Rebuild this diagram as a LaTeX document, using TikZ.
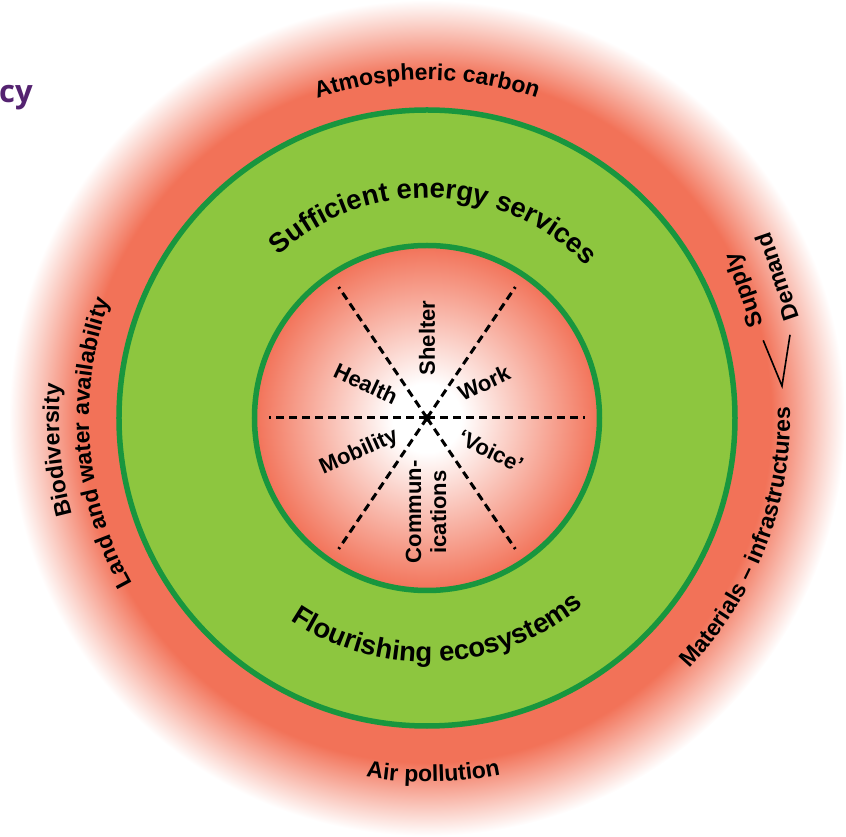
\documentclass[tikz,border=0pt]{standalone}
\usepackage{fontspec}
\setmainfont{Liberation Sans}
\newfontfamily\titlefont{Open Sans}
\usetikzlibrary{decorations.text}

\definecolor{ringred}{RGB}{242,114,88}
\definecolor{leafgreen}{RGB}{141,198,63}
\definecolor{rimgreen}{RGB}{24,150,62}
\definecolor{titlepurple}{RGB}{84,34,112}
\colorlet{coremid}{ringred!50!white}

\pgfdeclareradialshading{glow}{\pgfpoint{0bp}{0bp}}{color(0bp)=(ringred); color(20.6bp)=(ringred); color(25bp)=(white); color(50bp)=(white)}
\pgfdeclareradialshading{core}{\pgfpoint{0bp}{0bp}}{color(0bp)=(white); color(5bp)=(white); color(15bp)=(coremid); color(25bp)=(ringred); color(50bp)=(ringred)}

\newcommand\ringfont{\fontsize{27.5}{30}\selectfont\bfseries}
\newcommand\edgefont{\fontsize{23}{26}\selectfont\bfseries}
\newcommand\hubfont{\fontsize{22}{25}\selectfont\bfseries}

\tikzset{
  rim/.style={draw=rimgreen, line width=5.5pt},
  spoke/.style={line width=3pt, dash pattern=on 8pt off 5pt},
  hublabel/.style={font=\hubfont, inner sep=1pt},
  edgelabel/.style={font=\edgefont, inner sep=1pt},
  ringtext/.style={decorate, decoration={text along path, text align=center, text={|\ringfont|#1}}},
  edgetext/.style={decorate, decoration={text along path, text align=center, text={|\edgefont|#1}}}
}

\begin{document}
\begin{tikzpicture}[x=1pt,y=1pt]
  \useasboundingbox (-427,-419) rectangle (419,418);

  % Red glow and the two green rims
  \shade[shading=glow] (0,0) circle (418);
  \draw[rim, fill=leafgreen] (0,0) circle (308);
  \shade[shading=core] (0,0) circle (172.5);
  \draw[rim] (0,0) circle (172.5);

  % Spokes of the hub
  \coordinate (hub) at (0,0);
  \foreach \a in {0,56,124,180,236,304}{
    \coordinate (spoke\a) at (\a:158);
    \draw[spoke] (hub) -- (spoke\a);
  }
  \fill (hub) circle (3.8);

  % Needs around the hub
  \node[hublabel, rotate=90]  (shelter)  at (0,80)    {Shelter};
  \node[hublabel, rotate=-25] (health)   at (-61,34)  {Health};
  \node[hublabel, rotate=25]  (work)     at (57,35)   {Work};
  \node[hublabel, rotate=24]  (mobility) at (-68,-34) {Mobility};
  \node[hublabel, rotate=-26] (voice)    at (64,-33)  {‘Voice’};
  \node[hublabel, rotate=90, align=center] (comms) at (-1,-94) {Commun-\\ications};

  % Green ring
  \path[ringtext={Sufficient energy services}] (131:220) arc[start angle=131, end angle=45, radius=220];
  \path[ringtext={Flourishing ecosystems}] (-127:244) arc[start angle=-127, end angle=-47, radius=244];

  % Outer limits
  \path[edgetext={Atmospheric carbon}] (130:338) arc[start angle=130, end angle=50, radius=338];
  \path[edgetext={Air pollution}] (-120:364) arc[start angle=-120, end angle=-58, radius=364];
  \path[edgetext={Biodiversity}] (215:368) arc[start angle=215, end angle=155, radius=368];
  \path[edgetext={Land and water availability}] (215:338) arc[start angle=215, end angle=154, radius=338];
  \path[edgetext={Materials – infrastructures}] (-50:363) arc[start angle=-50, end angle=8, radius=363];

  % Supply and demand fork
  \node[edgelabel, rotate=109] (supply) at (318,128) {Supply};
  \node[edgelabel, rotate=109] (demand) at (350,141) {Demand};
  \coordinate (fork) at (355,32);
  \draw[line width=1.6pt, shorten <=14pt, shorten >=14pt] (supply.west) -- (fork) -- (demand.west);

  % Cut title
  \node[anchor=base west, inner sep=0, text=titlepurple, font={\titlefont\fontsize{31}{34}\selectfont\bfseries}] (title) at (-428,315) {cy};
\end{tikzpicture}
\end{document}
